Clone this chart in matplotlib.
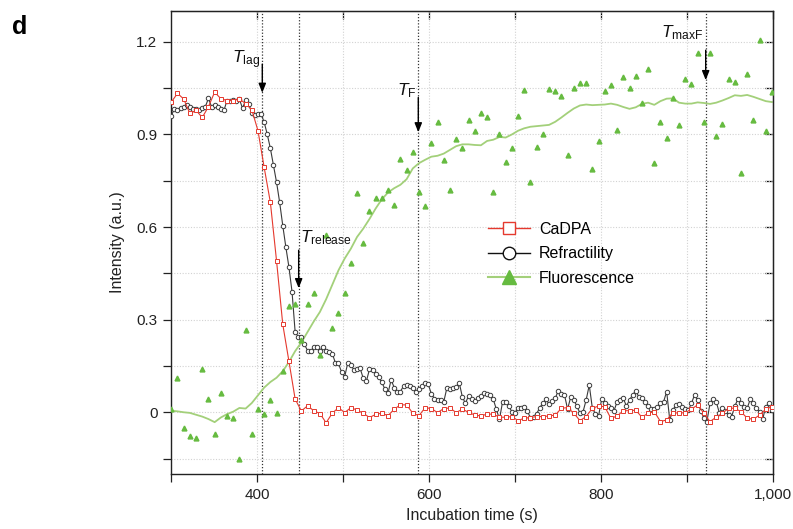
import numpy as np
import matplotlib
matplotlib.use("Agg")
import matplotlib.pyplot as plt
from matplotlib.lines import Line2D
from matplotlib.ticker import FixedLocator, FuncFormatter

plt.rcParams["font.family"] = ["Liberation Sans", "DejaVu Sans"]
plt.rcParams["mathtext.fontset"] = "custom"
plt.rcParams["mathtext.rm"] = "Liberation Sans"
plt.rcParams["mathtext.it"] = "Liberation Sans:italic"

# CaDPA and fluorescence frames every 7.2 s, refractility every 3.6 s (from 300 s)
cadpa = [
    1.005, 1.033, 1.015, 0.968, 0.978, 0.955, 0.99, 1.037, 1.016, 1.01,
    1.01, 1.015, 1.0, 0.98, 0.912, 0.793, 0.68, 0.49, 0.285, 0.165,
    0.043, 0.004, 0.021, 0.005, -0.004, -0.034, -0.003, 0.015, -0.001, 0.015,
    0.007, -0.003, -0.017, -0.007, -0.003, -0.011, 0.01, 0.024, 0.024, -0.003,
    -0.011, 0.015, 0.012, -0.001, 0.012, 0.014, -0.001, 0.01, 0.0, -0.009,
    -0.012, -0.006, -0.006, -0.016, -0.016, -0.014, -0.027, -0.019, -0.017, -0.014,
    -0.014, -0.012, -0.009, 0.013, 0.015, -0.003, -0.027, -0.014, 0.013, 0.02,
    0.018, -0.02, -0.012, 0.005, 0.005, 0.007, -0.016, -0.003, 0.002, -0.03,
    -0.025, -0.001, -0.003, -0.001, 0.01, 0.024, -0.003, -0.03, -0.016, -0.003,
    0.013, 0.013, 0.002, -0.019, -0.023, -0.009, 0.01, 0.018,
]

refractility = [
    0.96, 0.984, 0.98, 0.985, 0.99, 0.995, 0.989, 0.984, 0.981, 0.98,
    0.985, 0.99, 1.017, 0.99, 0.997, 0.99, 0.984, 0.978, 1.01, 1.008,
    1.012, 1.01, 1.014, 0.985, 1.011, 1.0, 0.968, 0.963, 0.966, 0.966,
    0.94, 0.9, 0.855, 0.80, 0.745, 0.68, 0.605, 0.535, 0.47, 0.39,
    0.26, 0.245, 0.245, 0.22, 0.2, 0.198, 0.21, 0.21, 0.2, 0.213,
    0.2, 0.196, 0.19, 0.16, 0.158, 0.13, 0.115, 0.16, 0.152, 0.138,
    0.139, 0.142, 0.11, 0.1, 0.139, 0.137, 0.123, 0.113, 0.097, 0.075,
    0.062, 0.105, 0.08, 0.067, 0.067, 0.085, 0.088, 0.084, 0.078, 0.067,
    0.076, 0.085, 0.096, 0.09, 0.06, 0.044, 0.04, 0.04, 0.034, 0.078,
    0.074, 0.078, 0.081, 0.096, 0.05, 0.029, 0.053, 0.042, 0.038, 0.045,
    0.053, 0.062, 0.058, 0.056, 0.042, 0.01, -0.023, 0.034, 0.034, 0.02,
    0.002, -0.001, 0.013, 0.015, 0.016, 0.005, -0.019, -0.014, -0.005, 0.015,
    0.029, 0.042, 0.027, 0.035, 0.045, 0.07, 0.06, 0.056, 0.01, 0.049,
    0.04, 0.02, -0.003, 0.002, 0.04, 0.088, 0.013, -0.005, -0.012, 0.042,
    0.031, 0.02, 0.013, 0.005, 0.034, 0.04, 0.045, 0.02, 0.04, 0.056,
    0.07, 0.05, 0.045, 0.034, 0.02, 0.01, 0.012, 0.018, 0.029, 0.034,
    0.067, -0.025, 0.007, 0.024, 0.027, 0.018, 0.01, 0.007, 0.029, 0.056,
    0.04, 0.005, -0.019, -0.03, 0.029, 0.042, 0.034, -0.001, 0.013, 0.005,
    -0.009, -0.014, 0.02, 0.042, 0.031, 0.018, 0.013, 0.042, 0.029, 0.013,
    0.002, -0.023, 0.018, 0.029, 0.007,
]

fluo_points = [
    0.01, 0.11, -0.05, -0.077, -0.083, 0.139, 0.042, -0.07, 0.062, -0.013,
    -0.019, -0.152, 0.266, -0.071, 0.01, -0.005, 0.04, -0.002, 0.135, 0.345,
    0.35, 0.235, 0.35, 0.387, 0.186, 0.573, 0.272, 0.322, 0.385, 0.484,
    0.711, 0.547, 0.652, 0.695, 0.693, 0.72, 0.671, 0.82, 0.784, 0.844,
    0.712, 0.668, 0.871, 0.939, 0.816, 0.72, 0.885, 0.855, 0.948, 0.912,
    0.97, 0.957, 0.714, 0.9, 0.811, 0.855, 0.96, 1.043, 0.745, 0.859,
    0.901, 1.046, 1.042, 1.024, 0.833, 1.051, 1.067, 1.068, 0.789, 0.879,
    1.041, 1.06, 0.914, 1.086, 1.052, 1.09, 1.002, 1.112, 0.809, 0.939,
    0.889, 1.017, 0.93, 1.08, 1.065, 1.164, 0.939, 1.164, 0.894, 0.933,
    1.081, 1.07, 0.774, 1.097, 0.948, 1.207, 0.911, 1.038,
]

fluo_smooth = [
    0.005, 0.003, 0.0, -0.002, -0.008, -0.014, -0.022, -0.032, -0.017, -0.006,
    0.002, 0.014, 0.012, 0.03, 0.055, 0.08, 0.098, 0.112, 0.133, 0.163,
    0.198, 0.226, 0.26, 0.294, 0.325, 0.366, 0.413, 0.46, 0.498, 0.53,
    0.568, 0.595, 0.626, 0.66, 0.69, 0.712, 0.726, 0.737, 0.755, 0.79,
    0.807, 0.818, 0.828, 0.831, 0.838, 0.85, 0.862, 0.868, 0.868, 0.866,
    0.865, 0.879, 0.883, 0.892, 0.89, 0.9, 0.912, 0.92, 0.925, 0.927,
    0.929, 0.931, 0.941, 0.955, 0.97, 0.984, 0.994, 0.997, 0.995, 0.996,
    0.997, 1.0, 0.996, 0.989, 0.983, 0.988, 0.999, 1.003, 0.996, 1.008,
    1.016, 1.017, 1.003, 1.0, 1.0, 1.004, 1.002, 0.999, 1.003, 1.01,
    1.018, 1.027, 1.025, 1.028, 1.022, 1.015, 1.008, 1.005,
]

# event markers: label, time (s), text y, arrow tail y, arrow tip y, text side
events = [
    (r"$T_{\mathrm{lag}}$", 405.8, 1.131, 1.128, 1.035, "right"),
    (r"$T_{\mathrm{release}}$", 448.1, 0.552, 0.525, 0.402, "left"),
    (r"$T_{\mathrm{F}}$", 587.2, 1.027, 1.02, 0.907, "right"),
    (r"$T_{\mathrm{maxF}}$", 921.4, 1.216, 1.173, 1.076, "right"),
]

t_slow = 300 + 7.2 * np.arange(len(cadpa))
t_fast = 300 + 3.6 * np.arange(len(refractility))

red = "#e5392e"
dark = "#3a3a3a"
green_pt = "#66bb40"
green_ln = "#a3d07a"

fig = plt.figure(figsize=(7.93, 5.29), dpi=100)
ax = fig.add_axes([171.3 / 793, 1 - 474 / 529, 602 / 793, 463 / 529])

ax.set_xlim(300, 1000)
ax.set_ylim(-0.2, 1.3)

ax.xaxis.set_major_locator(FixedLocator([400, 600, 800, 1000]))
ax.xaxis.set_minor_locator(FixedLocator([300, 500, 700, 900]))
ax.xaxis.set_major_formatter(FuncFormatter(lambda v, p: f"{int(v):,}"))
ax.yaxis.set_major_locator(FixedLocator([0, 0.3, 0.6, 0.9, 1.2]))
ax.yaxis.set_minor_locator(FixedLocator([-0.15, 0.15, 0.45, 0.75, 1.05]))
ax.yaxis.set_major_formatter(FuncFormatter(lambda v, p: "0" if abs(v) < 1e-9 else f"{v:.1f}"))

ax.grid(which="both", color="#d2d2d2", linestyle=(0, (1, 1.5)), linewidth=0.8)
ax.set_axisbelow(True)
ax.tick_params(which="both", direction="out", length=6, width=0.9,
               labelsize=11, pad=4, colors="#222222")
for s in ax.spines.values():
    s.set_linewidth(1.0)
    s.set_color("#222222")

# mirrored ticks pointing inward on top and right
top = ax.secondary_xaxis("top")
top.xaxis.set_major_locator(FixedLocator([400, 500, 600, 700, 800, 900, 1000]))
top.tick_params(direction="in", length=6, width=0.9, labeltop=False)
right = ax.secondary_yaxis("right")
right.yaxis.set_major_locator(FixedLocator([-0.15, 0, 0.15, 0.3, 0.45, 0.6, 0.75, 0.9, 1.05, 1.2]))
right.tick_params(direction="in", length=6, width=0.9, labelright=False)

for label, t, ty, y0, y1, ha in events:
    ax.axvline(t, color="#333333", linestyle=(0, (1, 1.5)), linewidth=0.9, zorder=1)

ax.plot(t_slow, fluo_smooth, color=green_ln, lw=1.3, zorder=2)
ax.plot(t_fast, refractility, color=dark, lw=0.8, marker="o", markersize=3.2,
        mfc="white", mec=dark, mew=0.7, zorder=3)
ax.plot(t_slow, cadpa, color=red, lw=0.8, marker="s", markersize=3.0,
        mfc="white", mec=red, mew=0.7, zorder=4)
ax.plot(t_slow, fluo_points, linestyle="none", marker="^", markersize=3.5,
        color=green_pt, mec=green_pt, zorder=5)

for label, t, ty, y0, y1, ha in events:
    ax.annotate("", xy=(t, y1), xytext=(t, y0),
                arrowprops=dict(arrowstyle="-|>,head_length=0.55,head_width=0.22",
                                color="black", lw=1.0, shrinkA=0, shrinkB=0), zorder=6)
    dx = -2 if ha == "right" else 1.5
    ax.text(t + dx, ty, label, ha=ha, va="baseline", fontsize=12.5, color="#111111", zorder=6)

handles = [
    Line2D([], [], color=red, lw=1.0, marker="s", markersize=9, mfc="white", mec=red, mew=1.0),
    Line2D([], [], color="#111111", lw=1.0, marker="o", markersize=9, mfc="white", mec="#111111", mew=1.0),
    Line2D([], [], color=green_ln, lw=1.5, marker="^", markersize=10, mfc=green_pt, mec=green_pt),
]
ax.legend(handles, ["CaDPA", "Refractility", "Fluorescence"], loc="upper left",
          bbox_to_anchor=(488 / 793, 1 - 222 / 529), bbox_transform=fig.transFigure,
          frameon=False, fontsize=11.5, borderpad=0, borderaxespad=0,
          handlelength=2.6, handletextpad=0.6, labelspacing=0.58)

ax.set_xlabel("Incubation time (s)", fontsize=11.5, color="#222222")
ax.xaxis.set_label_coords(0.5, -0.074)
ax.set_ylabel("Intensity (a.u.)", fontsize=11.5, color="#222222")
ax.yaxis.set_label_coords(-0.077, 0.5)

fig.text(12 / 793, 1 - 15 / 529, "d", fontsize=18, fontweight="bold", va="top", ha="left")

fig.savefig("out.png", dpi=100)
